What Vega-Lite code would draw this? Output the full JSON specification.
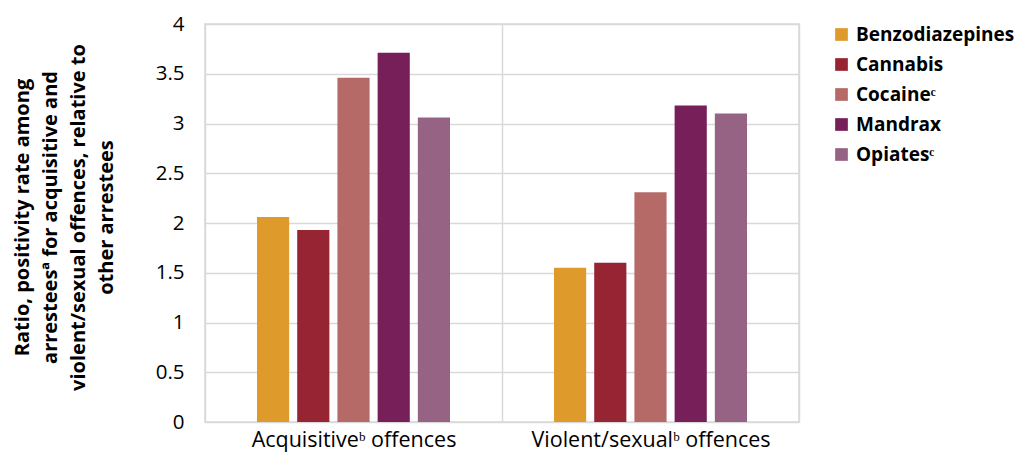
{
  "$schema": "https://vega.github.io/schema/vega-lite/v6.json",
  "autosize": {"type": "none"},
  "width": 594,
  "height": 398,
  "padding": {"left": 205, "top": 24, "right": 221, "bottom": 33},
  "background": "white",
  "title": {
    "text": "1999–2008",
    "anchor": "start",
    "frame": "group",
    "dx": -198,
    "offset": 6,
    "baseline": "alphabetic",
    "font": "Open Sans",
    "fontSize": 20,
    "fontWeight": "bold",
    "color": "#000000"
  },
  "data": {
    "values": [
      {"offence": "Acquisitiveᵇ offences", "drug": "Benzodiazepines", "ratio": 2.06},
      {"offence": "Acquisitiveᵇ offences", "drug": "Cannabis", "ratio": 1.93},
      {"offence": "Acquisitiveᵇ offences", "drug": "Cocaineᶜ", "ratio": 3.46},
      {"offence": "Acquisitiveᵇ offences", "drug": "Mandrax", "ratio": 3.71},
      {"offence": "Acquisitiveᵇ offences", "drug": "Opiatesᶜ", "ratio": 3.06},
      {"offence": "Violent/sexualᵇ  offences", "drug": "Benzodiazepines", "ratio": 1.55},
      {"offence": "Violent/sexualᵇ  offences", "drug": "Cannabis", "ratio": 1.6},
      {"offence": "Violent/sexualᵇ  offences", "drug": "Cocaineᶜ", "ratio": 2.31},
      {"offence": "Violent/sexualᵇ  offences", "drug": "Mandrax", "ratio": 3.18},
      {"offence": "Violent/sexualᵇ  offences", "drug": "Opiatesᶜ", "ratio": 3.1}
    ]
  },
  "mark": {"type": "bar"},
  "encoding": {
    "x": {
      "field": "offence",
      "type": "nominal",
      "sort": null,
      "scale": {"paddingInner": 0, "paddingOuter": 0},
      "axis": {
        "title": null,
        "labelAngle": 0,
        "labelFont": "Open Sans",
        "labelFontSize": 21.5,
        "labelColor": "#000000",
        "labelPadding": 7,
        "labelLimit": 500,
        "ticks": false,
        "domain": false,
        "grid": true,
        "tickBand": "extent",
        "gridColor": "#D9D9D9",
        "gridWidth": 1.5
      }
    },
    "xOffset": {
      "field": "drug",
      "type": "nominal",
      "sort": null,
      "scale": {"paddingInner": 0.2, "paddingOuter": 0, "range": [52, 245]}
    },
    "y": {
      "field": "ratio",
      "type": "quantitative",
      "scale": {"domain": [0, 4]},
      "axis": {
        "values": [0, 0.5, 1, 1.5, 2, 2.5, 3, 3.5, 4],
        "format": "~g",
        "labelFont": "Open Sans",
        "labelFontSize": 20.5,
        "labelColor": "#000000",
        "labelPadding": 21,
        "ticks": false,
        "domain": false,
        "gridColor": "#D9D9D9",
        "gridWidth": 1.5,
        "title": ["Ratio, positivity rate among", "arresteesª  for acquisitive and", "violent/sexual offences, relative to", "other arrestees"],
        "titleFont": "Open Sans",
        "titleFontSize": 20,
        "titleFontWeight": "bold",
        "titleColor": "#000000",
        "titleLineHeight": 28.3,
        "titleAngle": -90,
        "titleAlign": "center",
        "titleBaseline": "middle",
        "titleX": -183,
        "titleY": 193
      }
    },
    "color": {
      "field": "drug",
      "type": "nominal",
      "sort": null,
      "scale": {
        "domain": ["Benzodiazepines", "Cannabis", "Cocaineᶜ", "Mandrax", "Opiatesᶜ"],
        "range": ["#DF9A2C", "#962433", "#B56A68", "#761F58", "#976385"]
      },
      "legend": {
        "title": null,
        "orient": "none",
        "legendX": 627,
        "legendY": 1,
        "symbolType": "square",
        "symbolSize": 161,
        "symbolStrokeWidth": 0,
        "labelFont": "Open Sans",
        "labelFontSize": 19,
        "labelFontWeight": "bold",
        "labelColor": "#000000",
        "labelOffset": 5,
        "rowPadding": 10,
        "labelLimit": 300
      }
    }
  },
  "config": {
    "view": {"stroke": "#D9D9D9", "strokeWidth": 1.5}
  }
}
